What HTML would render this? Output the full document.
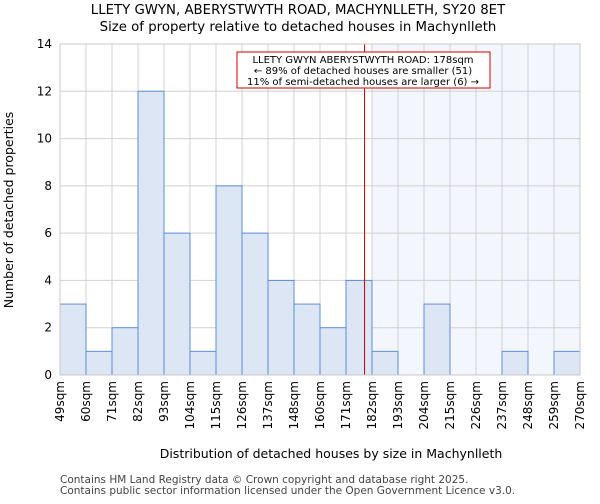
<!DOCTYPE html>
<html><head><meta charset="utf-8"><style>
body{margin:0;background:#fff;font-family:"DejaVu Sans","Liberation Sans",sans-serif;}
svg text{font-family:"DejaVu Sans","Liberation Sans",sans-serif;}
</style></head><body>
<svg id="chart" width="600" height="500" xmlns="http://www.w3.org/2000/svg">
<text x="298" y="14" text-anchor="middle" font-size="13.3">LLETY GWYN, ABERYSTWYTH ROAD, MACHYNLLETH, SY20 8ET</text>
<text x="298" y="31" text-anchor="middle" font-size="13.3">Size of property relative to detached houses in Machynlleth</text>
<g id="plot"></g>
<text x="331" y="458" text-anchor="middle" font-size="12.5">Distribution of detached houses by size in Machynlleth</text>
<text transform="translate(13,210) rotate(-90)" text-anchor="middle" font-size="12.5">Number of detached properties</text>
<text x="60" y="483" font-size="10.5" fill="#444">Contains HM Land Registry data © Crown copyright and database right 2025.</text>
<text x="60" y="494" font-size="10.5" fill="#444">Contains public sector information licensed under the Open Government Licence v3.0.</text>
</svg>
<script>
const binLabels=["49sqm","60sqm","71sqm","82sqm","93sqm","104sqm","115sqm","126sqm","137sqm","148sqm","160sqm","171sqm","182sqm","193sqm","204sqm","215sqm","226sqm","237sqm","248sqm","259sqm","270sqm"];
const counts=[3,1,2,12,6,1,8,6,4,3,2,4,1,0,3,0,0,1,0,1];
const yTicks=[0,2,4,6,8,10,12,14];
const propertySize=178;
const highlightFromBin=12;
const NS="http://www.w3.org/2000/svg";
const L=60,R=580,T=44,B=375,yMax=14;
const bw=(R-L)/counts.length;
const xs=i=>L+i*bw;
const ys=v=>B-(v/yMax)*(B-T);
const g=document.getElementById('plot');
function mk(t,a){const e=document.createElementNS(NS,t);for(const k in a)e.setAttribute(k,a[k]);g.appendChild(e);return e;}
let e=mk('rect',{x:xs(highlightFromBin),y:T,width:R-xs(highlightFromBin),height:B-T,fill:'#f4f6fd'});


for(let i=0;i<=counts.length;i++){e=mk('line',{x1:xs(i),x2:xs(i),y1:T,y2:B,stroke:'#d0d0d0','stroke-width':1});

}
yTicks.forEach(v=>{e=mk('line',{x1:L,x2:R,y1:ys(v),y2:ys(v),stroke:'#d0d0d0','stroke-width':1});


e=mk('text',{x:L-8,y:ys(v)+4,'text-anchor':'end','font-size':12});e.textContent=v;

});
counts.forEach((c,i)=>{if(c<=0)return;e=mk('rect',{x:xs(i),y:ys(c),width:bw,height:B-ys(c),fill:'#dce6f4',stroke:'#5b8fd6','stroke-width':1});

});
binLabels.forEach((l,i)=>{e=mk('text',{transform:`translate(${xs(i)+4},${B+6}) rotate(-90)`,'text-anchor':'end','font-size':12});e.textContent=l;

});
const lo=171,hi=182,bi=11;
const px=xs(bi)+(propertySize-lo)/(hi-lo)*bw+2;
e=mk('line',{x1:px,x2:px,y1:T,y2:B,stroke:'#cc0000','stroke-width':1});


e=mk('rect',{x:237,y:52,width:253,height:36,fill:'#fff',stroke:'#cc0000','stroke-width':1});


["LLETY GWYN ABERYSTWYTH ROAD: 178sqm","← 89% of detached houses are smaller (51)","11% of semi-detached houses are larger (6) →"].forEach((t,k)=>{e=mk('text',{x:363,y:63+k*11,'text-anchor':'middle','font-size':10});e.textContent=t;

});
e=mk('rect',{x:L,y:T,width:R-L,height:B-T,fill:'none',stroke:'#c8c8c8','stroke-width':1});


</script>
</body></html>
